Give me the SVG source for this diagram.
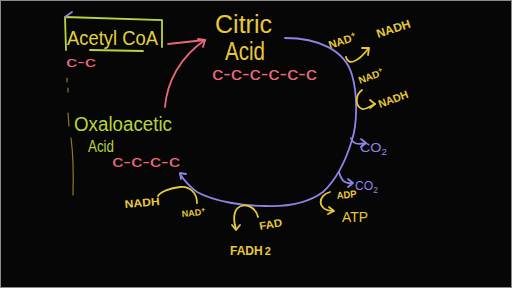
<svg xmlns="http://www.w3.org/2000/svg" width="512" height="288" viewBox="0 0 512 288">
<style>
text{font-family:"Liberation Sans","DejaVu Sans",sans-serif}
.y{fill:#e6c93a}
.g{fill:#b8d43c}
.p{fill:#e8687a}
.v{fill:#8e84e6}
.ys{fill:none;stroke:#e6c93a;stroke-width:1.8;stroke-linecap:round;stroke-linejoin:round}
.vs{fill:none;stroke:#8e84e6;stroke-width:1.8;stroke-linecap:round;stroke-linejoin:round}
.rs{fill:none;stroke:#e8687a;stroke-width:1.8;stroke-linecap:round;stroke-linejoin:round}
.fs{fill:none;stroke:#8a7a30;stroke-width:1.2;stroke-linecap:round}
</style>
<rect x="0.5" y="0.5" width="511" height="287" fill="#060606" stroke="#8a8a8a" stroke-width="1"/>

<g id="acetyl-coa">
<path d="M65,17 L162,20 L162,47 M90,50 L143,51 M65,17 L66,50" fill="none" stroke="#bcd437" stroke-width="1.8" stroke-linecap="round"/>
<path d="M65,17 L72,12" class="vs" stroke-width="1.2"/>
<text x="67" y="45" font-size="21" textLength="91" lengthAdjust="spacingAndGlyphs" fill="#e2d23c">Acetyl CoA</text>
<text x="66" y="67" font-size="15" textLength="30" lengthAdjust="spacingAndGlyphs" class="p">c-c</text>
</g>

<g id="citric-acid">
<text x="215" y="33" font-size="25" textLength="57" lengthAdjust="spacingAndGlyphs" class="y">Citric</text>
<text x="225" y="60" font-size="25" textLength="40" lengthAdjust="spacingAndGlyphs" class="y">Acid</text>
<text x="212" y="80" font-size="19" textLength="105" lengthAdjust="spacingAndGlyphs" class="p">c-c-c-c-c-c</text>
</g>

<g id="oxaloacetic-acid">
<text x="74" y="131" font-size="20" textLength="98" lengthAdjust="spacingAndGlyphs" class="g">Oxaloacetic</text>
<text x="88" y="152" font-size="17" textLength="26" lengthAdjust="spacingAndGlyphs" class="g">Acid</text>
<text x="112" y="167" font-size="17" textLength="68" lengthAdjust="spacingAndGlyphs" class="p">c-c-c-c</text>
<path class="fs" d="M67,78 L67,82 M68,88 L68,92 M68,113 L69,126 M71,138 Q74,160 73,195"/>
</g>

<g id="nadh-1">
<text transform="translate(330,49) rotate(-18)" font-size="11" font-weight="bold" class="y">NAD<tspan dy="-4" font-size="8">+</tspan></text>
<text transform="translate(378,38) rotate(-18)" font-size="12" font-weight="bold" textLength="35" lengthAdjust="spacingAndGlyphs" class="y">NADH</text>
</g>

<g id="nadh-2">
<text transform="translate(360,84) rotate(-20)" font-size="10" font-weight="bold" class="y">NAD<tspan dy="-4" font-size="7">+</tspan></text>
<text transform="translate(380,108) rotate(-20)" font-size="11" font-weight="bold" textLength="31" lengthAdjust="spacingAndGlyphs" class="y">NADH</text>
</g>

<g id="co2-1">
<text x="360" y="152" font-size="13" textLength="27" lengthAdjust="spacingAndGlyphs" class="v">CO<tspan dy="3" font-size="9">2</tspan></text>
</g>

<g id="co2-2">
<text x="355" y="190" font-size="13" textLength="23" lengthAdjust="spacingAndGlyphs" class="v">CO<tspan dy="3" font-size="9">2</tspan></text>
</g>

<g id="atp">
<text transform="translate(337,199) rotate(-5)" font-size="10" font-weight="bold" textLength="20" lengthAdjust="spacingAndGlyphs" class="y">ADP</text>
<text x="342" y="222" font-size="14" textLength="26" lengthAdjust="spacingAndGlyphs" class="y">ATP</text>
</g>

<g id="fadh2">
<text transform="translate(260,230) rotate(-10)" font-size="11" font-weight="bold" textLength="23" lengthAdjust="spacingAndGlyphs" class="y">FAD</text>
<text x="230" y="255" font-size="12" font-weight="bold" class="y">FADH<tspan dx="2" font-size="11">2</tspan></text>
</g>

<g id="nadh-3">
<text transform="translate(125,208) rotate(-5)" font-size="11" font-weight="bold" textLength="35" lengthAdjust="spacingAndGlyphs" class="y">NADH</text>
<text transform="translate(182,217) rotate(-5)" font-size="9" font-weight="bold" class="y">NAD<tspan dy="-3" font-size="7">+</tspan></text>
</g>

<g id="connectors">
<path class="rs" d="M168,44 L205,40"/>
<path class="rs" d="M165,107 C167,82 180,57 205,40"/>
<path class="rs" d="M198,39 L205,40 L203,47"/>

<path class="vs" d="M285,38 C318,38 345,50 352,75 C358,95 357,125 352,140 C346,160 336,180 323,192 C308,203 290,207 265,206 C245,206 215,202 197,192 C190,187 184,180 180,174"/>
<path class="vs" d="M186,174 L180,173 L181,179"/>

<path class="ys" d="M346,57 C348,66 358,62 368,49"/>
<path class="ys" d="M362,48 L369,48 L368,55"/>
<path class="ys" d="M362,90 C355,95 355,106 362,109 C366,110 370,106 375,104"/>
<path class="ys" d="M370,100 L375,104 L370,108"/>

<path class="vs" d="M351,138 Q353,146 365,143"/>
<path class="vs" d="M361,139 L366,143 L361,147"/>
<path class="vs" d="M339,172 Q342,185 352,183"/>
<path class="vs" d="M348,179 L353,183 L348,187"/>

<path class="ys" d="M330,192 C318,195 316,210 333,211"/>
<path class="ys" d="M329,207 L334,211 L328,214"/>

<path class="ys" d="M197,203 C197,193 190,186 180,187 C170,188 160,192 158,196"/>

<path class="ys" d="M258,217 C256,208 248,204 241,206 C233,209 233,220 236,229"/>
<path class="ys" d="M232,225 L236,230 L240,225"/>
</g>
</svg>
